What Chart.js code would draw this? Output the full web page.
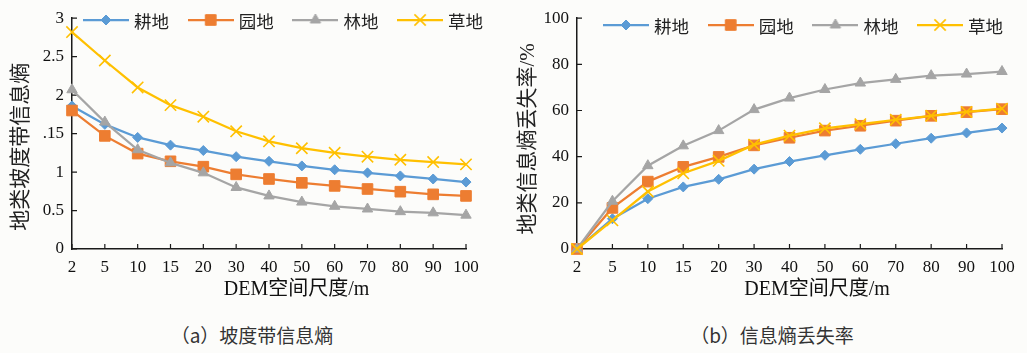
<!DOCTYPE html>
<html>
<head>
<meta charset="utf-8">
<script src="https://cdn.jsdelivr.net/npm/chart.js@4/dist/chart.umd.min.js"></script>
<style>
  body { margin: 0; background: #fcfcfa; }
  #wrap { position: relative; width: 1027px; height: 353px; overflow: hidden; }
  .box { position: absolute; top: 0; height: 310px; }
  .cap { position: absolute; top: 323px; text-align: center; font: 19px "Noto Sans CJK SC", sans-serif; color: #333; line-height: 24px; }
</style>
</head>
<body>
<div id="wrap">
  <div class="box" style="left:0;width:510px"><canvas id="chartA"></canvas></div>
  <div class="box" style="left:510px;width:517px"><canvas id="chartB"></canvas></div>
  <div class="cap" style="left:0;width:504px">（a）坡度带信息熵</div>
  <div class="cap" style="left:520px;width:504px">（b）信息熵丢失率</div>
</div>
<script>
// DATA
const scales_m = ["2", "5", "10", "15", "20", "30", "40", "50", "60", "70", "80", "90", "100"];
const landTypes = ["耕地", "园地", "林地", "草地"];

// (a) slope-band entropy
const gengdiA = [1.86, 1.62, 1.45, 1.35, 1.28, 1.20, 1.14, 1.08, 1.03, 0.99, 0.95, 0.91, 0.87];
const yuandiA = [1.80, 1.47, 1.24, 1.14, 1.07, 0.97, 0.91, 0.86, 0.82, 0.78, 0.745, 0.71, 0.69];
const lindiA  = [2.07, 1.65, 1.29, 1.12, 0.99, 0.80, 0.69, 0.61, 0.555, 0.52, 0.485, 0.47, 0.44];
const caodiA  = [2.82, 2.45, 2.10, 1.87, 1.72, 1.53, 1.40, 1.31, 1.25, 1.20, 1.16, 1.13, 1.10];
const yTicksA = ["0", "0.5", "1", ".15", "2", "2.5", "3"];

// (b) entropy loss rate, %
const gengdiB = [0, 13.1, 21.8, 26.9, 30.2, 34.6, 37.9, 40.6, 43.2, 45.6, 48.0, 50.3, 52.4];
const yuandiB = [0, 17.8, 29.2, 35.6, 39.9, 44.9, 48.2, 51.3, 53.4, 55.6, 57.7, 59.3, 60.6];
const lindiB  = [0, 20.7, 36.1, 44.7, 51.3, 60.4, 65.4, 69.1, 71.9, 73.5, 75.1, 75.8, 76.9];
const caodiB  = [0, 12.4, 24.9, 32.8, 38.2, 45.2, 49.1, 52.3, 54.1, 56.0, 57.7, 59.4, 60.8];
const yTicksB = ["0", "20", "40", "60", "80", "100"];

// STYLE
const looks = [
  { color: "#5b9bd5", style: "rectRot", r: 5, bw: 1 },
  { color: "#ed7d31", style: "rect", r: 7.5, bw: 1 },
  { color: "#a5a5a5", style: "triangle", r: 6, bw: 1 },
  { color: "#ffc000", style: "crossRot", r: 8, bw: 1.6 },
];
const serif = "'Liberation Serif', 'Noto Sans CJK SC', serif";

function series(i, data) {
  const l = looks[i];
  return {
    label: landTypes[i], data,
    borderColor: l.color, backgroundColor: l.color,
    pointBackgroundColor: l.color, pointBorderColor: l.color,
    pointStyle: l.style, pointRadius: l.r, pointBorderWidth: l.bw,
    borderWidth: 2.25, tension: 0, clip: false, order: 4 - i,
  };
}

// line + marker swatches for the legend
function swatch(l) {
  const c = document.createElement("canvas");
  c.width = 46; c.height = 20;
  const g = c.getContext("2d");
  g.strokeStyle = l.color; g.lineWidth = 2.25;
  g.beginPath(); g.moveTo(0, 10); g.lineTo(46, 10); g.stroke();
  g.fillStyle = l.color; g.lineWidth = l.bw;
  Chart.helpers.drawPoint(g, { pointStyle: l.style, radius: l.r, borderWidth: l.bw, rotation: 0 }, 23, 10);
  return c;
}
const swatches = looks.map(swatch);

// tick marks pointing into the plot
const innerTicks = {
  id: "innerTicks",
  beforeDatasetsDraw(chart) {
    const { ctx, chartArea: a, scales: { x, y } } = chart;
    ctx.save();
    ctx.strokeStyle = "#1a1a1a";
    ctx.lineWidth = 1.2;
    ctx.beginPath();
    y.ticks.forEach((t, i) => {
      const py = y.getPixelForTick(i);
      ctx.moveTo(a.left, py); ctx.lineTo(a.left + 5, py);
    });
    x.ticks.forEach((t, i) => {
      const px = x.getPixelForTick(i);
      ctx.moveTo(px, a.bottom); ctx.lineTo(px, a.bottom - 5);
    });
    ctx.stroke();
    ctx.restore();
  },
};

// one-row legend sitting inside the plot, like the original
const plotLegend = {
  id: "plotLegend",
  afterDatasetsDraw(chart, args, o) {
    const ctx = chart.ctx;
    ctx.save();
    ctx.font = "17.5px 'Noto Sans CJK SC'";
    ctx.fillStyle = "#222";
    ctx.textBaseline = "middle";
    chart.data.datasets.forEach((ds, i) => {
      const x = o.x + i * o.step;
      ctx.drawImage(swatches[i], x, o.y - 10);
      ctx.fillText(ds.label, x + 51, o.y + 1);
    });
    ctx.restore();
  },
};

function makeChart(id, sets, yMax, yStep, yTicks, yTitle, yW, yTitlePad, padRight, leg) {
  return new Chart(document.getElementById(id), {
    type: "line",
    data: { labels: scales_m, datasets: sets },
    plugins: [innerTicks, plotLegend],
    options: {
      responsive: true,
      maintainAspectRatio: false,
      animation: false,
      events: [],
      layout: { padding: { left: 0, top: 17, right: padRight, bottom: 0 } },
      plugins: {
        tooltip: { enabled: false },
        legend: { display: false },
        plotLegend: leg,
      },
      scales: {
        x: {
          grid: { display: true, drawOnChartArea: false, drawTicks: false },
          border: { color: "#1a1a1a", width: 1.5 },
          ticks: { color: "#111", padding: 8, maxRotation: 0, autoSkip: false, font: { family: serif, size: 17 } },
          title: {
            display: true,
            text: " ".repeat(11) + "DEM空间尺度/m",
            color: "#111",
            font: { family: serif, size: 20 },
            padding: { top: 0, bottom: 8 },
          },
          afterFit(s) { s.height = 61; },
        },
        y: {
          min: 0, max: yMax,
          grid: { display: true, drawOnChartArea: false, drawTicks: false },
          border: { color: "#1a1a1a", width: 1.5 },
          ticks: {
            stepSize: yStep, color: "#111", padding: 8,
            font: { family: serif, size: 17 },
            callback: (v, i) => yTicks[i],
          },
          title: {
            display: true,
            text: yTitle,
            color: "#222",
            font: { family: serif, size: 21 },
            padding: { top: yTitlePad, bottom: 0 },
          },
          afterFit(s) { s.width = yW; },
        },
      },
    },
  });
}

makeChart("chartA",
  [series(0, gengdiA), series(1, yuandiA), series(2, lindiA), series(3, caodiA)],
  3, 0.5, yTicksA, "地类坡度带信息熵" + " ".repeat(5), 72, 8.4, 44, { x: 83, y: 20, step: 104.7 });

makeChart("chartB",
  [series(0, gengdiB), series(1, yuandiB), series(2, lindiB), series(3, caodiB)],
  100, 20, yTicksB, "地类信息熵丢失率/%" + " ".repeat(2), 67, 5.4, 25, { x: 93, y: 25, step: 104.7 });
</script>
</body>
</html>
